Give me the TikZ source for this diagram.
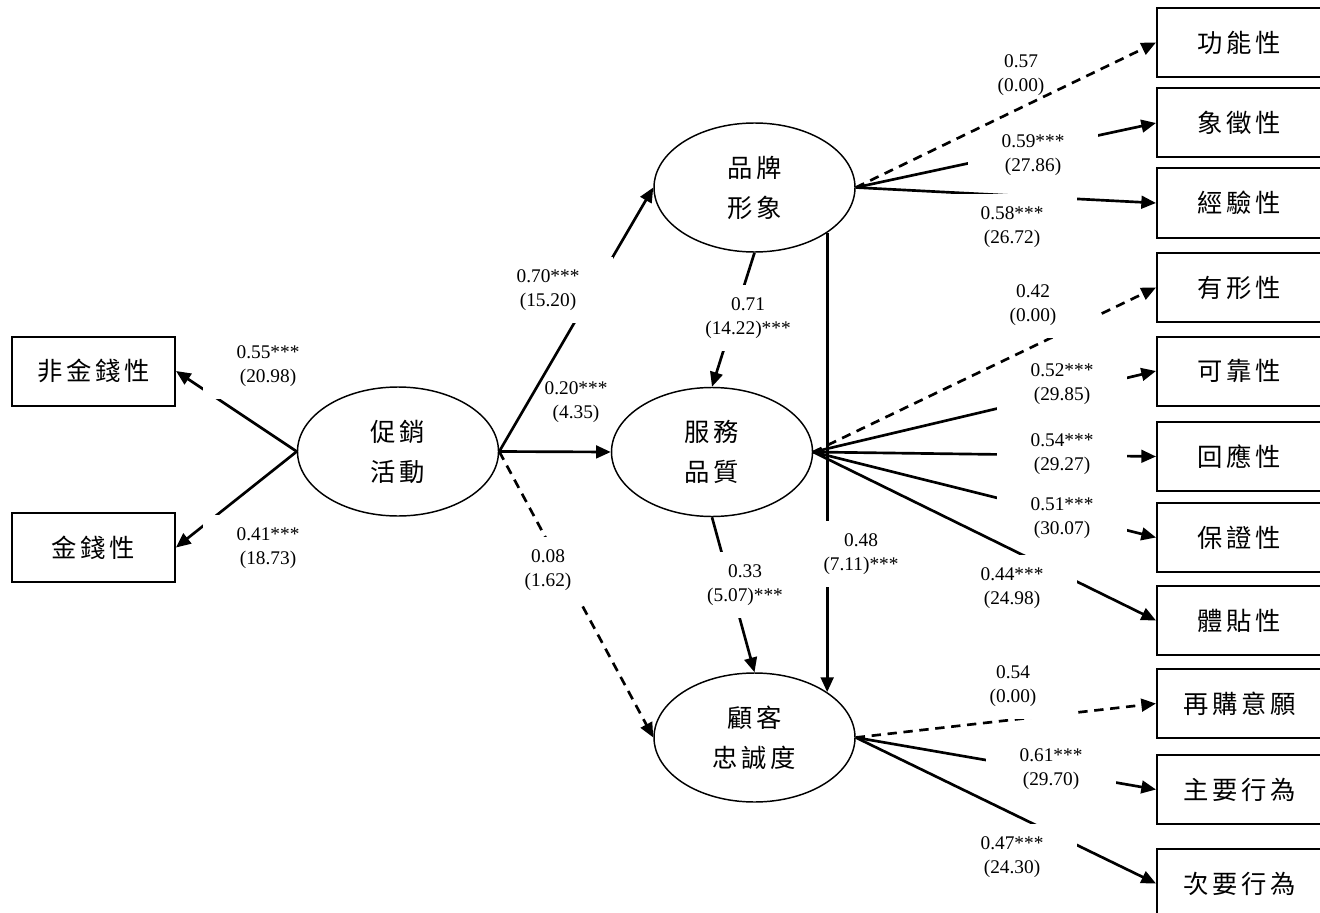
\documentclass[tikz,border=0pt]{standalone}
\usepackage{fontspec}
\setmainfont{Liberation Serif}
\newfontfamily\cjk[LetterSpace=15]{Noto Sans CJK TC}
\usetikzlibrary{shapes.geometric,arrows.meta}

\begin{document}
\begin{tikzpicture}[x=0.75pt,y=-0.75pt,
  box/.style={draw, line width=1.5pt, minimum width=122.25pt, minimum height=51.75pt,
    inner sep=0pt, font=\cjk\fontsize{19}{24}\selectfont},
  rbox/.style={box, minimum width=123.75pt},
  latent/.style={draw, ellipse, line width=1.1pt, fill=white, minimum width=150.75pt,
    minimum height=96.75pt, inner sep=0pt, align=center, font=\cjk\fontsize{19}{30}\selectfont},
  link/.style={line width=2pt, -{Triangle[length=11pt,width=9.5pt]}},
  dlink/.style={link, dash pattern=on 7pt off 5pt},
  lab/.style={fill=white, inner sep=0pt, minimum width=97.5pt, minimum height=49.5pt,
    align=center, font=\fontsize{14.5}{18}\selectfont},
  plainlab/.style={lab, fill=none}]

\useasboundingbox (0,0) rectangle (1320,913);

% latent constructs
\node[latent] (p) at (398,451.5) {促銷\\活動};
\node[latent] (b) at (754.5,187.5) {品牌\\形象};
\node[latent] (s) at (712,452) {服務\\品質};
\node[latent] (c) at (754.5,737.5) {顧客\\忠誠度};

% observed indicators
\node[box] (nm) at (93.5,371) {非金錢性};
\node[box] (mo) at (93.5,547.5) {金錢性};

\node[rbox] (f1) at (1239.5,42.5) {功能性};
\node[rbox] (f2) at (1239.5,123) {象徵性};
\node[rbox] (f3) at (1239.5,203) {經驗性};
\node[rbox] (q1) at (1239.5,287.5) {有形性};
\node[rbox] (q2) at (1239.5,371) {可靠性};
\node[rbox] (q3) at (1239.5,456.5) {回應性};
\node[rbox] (q4) at (1239.5,537.5) {保證性};
\node[rbox] (q5) at (1239.5,620.5) {體貼性};
\node[rbox] (l1) at (1239.5,703.5) {再購意願};
\node[rbox] (l2) at (1239.5,789.5) {主要行為};
\node[rbox] (l3) at (1239.5,883.5) {次要行為};

% promotion measurement
\draw[link] (p.west) -- (nm.east);
\node[lab] at (268,366) {0.55***\\(20.98)};
\draw[link] (p.west) -- (mo.east);
\node[lab] at (268,548) {0.41***\\(18.73)};

% structural paths
\node[plainlab] at (576,402) {0.20***\\(4.35)};
\draw[link] (p.east) -- (b.west);
\node[lab] at (548,290) {0.70***\\(15.20)};
\draw[link] (p.east) -- (s.west);
\draw[dlink] (p.east) -- (c.west);
\node[lab] at (548,570) {0.08\\(1.62)};
\draw[link] (b.south) -- (s.north);
\node[lab] at (748,318) {0.71\\(14.22)***};
\draw[link] (s.south) -- (c.north);
\node[lab] at (745,585) {0.33\\(5.07)***};
\draw[link] (b.-32.4) -- (b.-32.4 |- c.32.4);
\node[lab] at (861,554) {0.48\\(7.11)***};

% brand image measurement
\node[plainlab] at (1021,75) {0.57\\(0.00)};
\draw[link] (b.east) -- (f2.west);
\node[lab] at (1033,155) {0.59***\\(27.86)};
\draw[link] (b.east) -- (f3.west);
\node[lab] at (1012,227) {0.58***\\(26.72)};
\draw[dlink] (b.east) -- (f1.west);

% service quality measurement
\draw[link] (s.east) -- (q2.west);
\node[lab] at (1062,384) {0.52***\\(29.85)};
\draw[link] (s.east) -- (q3.west);
\node[lab] at (1062,454) {0.54***\\(29.27)};
\draw[link] (s.east) -- (q4.west);
\node[lab] at (1062,518) {0.51***\\(30.07)};
\draw[link] (s.east) -- (q5.west);
\node[lab] at (1012,588) {0.44***\\(24.98)};
\draw[dlink] (s.east) -- (q1.west);
\node[lab] at (1033,305) {0.42\\(0.00)};

% loyalty measurement
\draw[link] (c.east) -- (l2.west);
\node[lab] at (1051,769) {0.61***\\(29.70)};
\draw[link] (c.east) -- (l3.west);
\node[lab] at (1012,857) {0.47***\\(24.30)};
\draw[dlink] (c.east) -- (l1.west);
\node[lab] at (1013,686) {0.54\\(0.00)};

\end{tikzpicture}
\end{document}
